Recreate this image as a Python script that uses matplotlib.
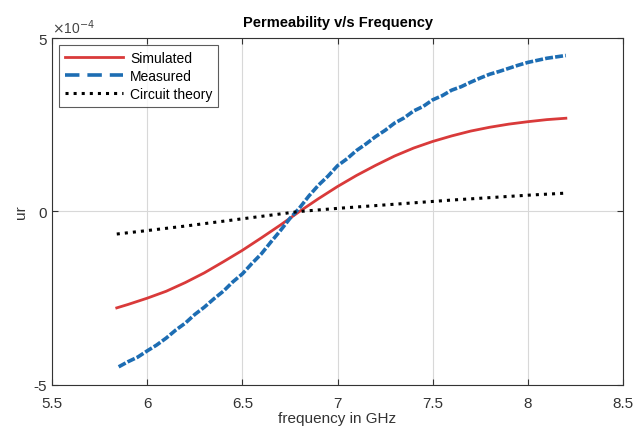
import matplotlib
matplotlib.use("Agg")
import matplotlib.pyplot as plt

plt.rcParams['font.family'] = ['Liberation Sans', 'DejaVu Sans']
plt.rcParams['axes.unicode_minus'] = False

# Values in units of 1e-4
f_sim = [5.84, 5.9, 6.0, 6.1, 6.2, 6.3, 6.4, 6.5, 6.6, 6.7, 6.8, 6.9, 7.0,
         7.1, 7.2, 7.3, 7.4, 7.5, 7.6, 7.7, 7.8, 7.9, 8.0, 8.1, 8.2]
ur_sim = [-2.78, -2.68, -2.50, -2.30, -2.05, -1.77, -1.45, -1.12, -0.76, -0.39,
          0.0, 0.37, 0.72, 1.04, 1.33, 1.60, 1.83, 2.02, 2.18, 2.32, 2.43,
          2.52, 2.59, 2.65, 2.69]

f_meas = [5.85, 5.90, 5.95, 6.00, 6.05, 6.10, 6.15, 6.20, 6.25, 6.30, 6.35, 6.40,
          6.45, 6.50, 6.55, 6.60, 6.65, 6.70, 6.75, 6.80, 6.85, 6.90, 6.95, 7.00,
          7.05, 7.10, 7.15, 7.20, 7.25, 7.30, 7.35, 7.40, 7.45, 7.50, 7.55, 7.60,
          7.65, 7.70, 7.75, 7.80, 7.85, 7.90, 7.95, 8.00, 8.05, 8.10, 8.15, 8.20]
ur_meas = [-4.48, -4.33, -4.20, -4.02, -3.85, -3.65, -3.42, -3.22, -2.97, -2.76,
           -2.52, -2.30, -2.03, -1.80, -1.50, -1.22, -0.88, -0.55, -0.20, 0.10,
           0.45, 0.76, 1.02, 1.32, 1.52, 1.76, 1.95, 2.16, 2.34, 2.55, 2.70, 2.90,
           3.03, 3.22, 3.34, 3.50, 3.60, 3.73, 3.85, 3.96, 4.04, 4.13, 4.22, 4.30,
           4.36, 4.42, 4.46, 4.50]

f_ckt = [5.84, 6.0, 6.2, 6.4, 6.6, 6.8, 7.0, 7.2, 7.4, 7.6, 7.8, 8.0, 8.2]
ur_ckt = [-0.65, -0.55, -0.42, -0.28, -0.14, 0.0, 0.09, 0.17, 0.25, 0.33,
          0.40, 0.47, 0.53]

xticks = [5.5, 6, 6.5, 7, 7.5, 8, 8.5]
yticks = [-5, 0, 5]
scale = 1e-4

fig = plt.figure(figsize=(6.35, 4.35), dpi=100)
ax = fig.add_axes([0.082, 0.113, 0.899, 0.797])

ax.plot(f_sim, [v * scale for v in ur_sim], color='#d93a3a', lw=2.0, label='Simulated')
ax.plot(f_meas, [v * scale for v in ur_meas], color='#1d6db3', lw=2.6, ls='--',
        dashes=(2.2, 0.6), label='Measured')
ax.plot(f_ckt, [v * scale for v in ur_ckt], color='black', lw=2.2, ls=':', label='Circuit theory')

ax.set_xlim(5.5, 8.5)
ax.set_ylim(-5e-4, 5e-4)
ax.set_xticks(xticks)
ax.set_xticklabels([('%g' % t) for t in xticks])
ax.set_yticks([t * scale for t in yticks])
ax.set_yticklabels([('%g' % t) for t in yticks])
ax.text(0.0, 1.005, r'$\times$10$^{-4}$', transform=ax.transAxes, fontsize=10,
        color='#444444', ha='left', va='bottom')

ax.grid(True, color='#d8d8d8', lw=0.8)
ax.tick_params(direction='in', length=4, labelsize=11, colors='#333333', top=True, right=True)
ax.tick_params(axis='x', pad=8)
for s in ax.spines.values():
    s.set_color('#333333')
    s.set_linewidth(0.8)

ax.set_title('Permeability v/s Frequency', fontsize=10.5, fontweight='bold', pad=9)
ax.set_xlabel('frequency in GHz', fontsize=11, color='#333333', labelpad=1)
ax.set_ylabel('ur', fontsize=11, color='#333333', labelpad=4)

leg = ax.legend(loc='upper left', fontsize=10, frameon=True, fancybox=False,
                edgecolor='#333333', borderaxespad=0.5, handlelength=4.2,
                labelspacing=0.3, borderpad=0.4, handletextpad=0.5)
leg.get_frame().set_linewidth(0.8)
leg.legend_handles[1].set_dashes((4, 2.2))

fig.savefig('out.png', dpi=100)
